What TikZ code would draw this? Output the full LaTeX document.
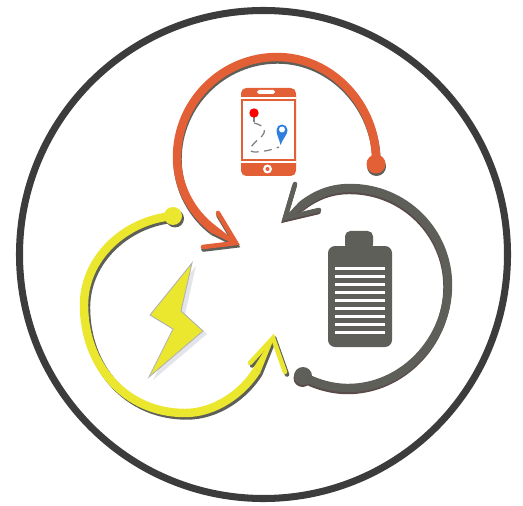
\documentclass[tikz,border=0pt]{standalone}

\definecolor{ringgray}{HTML}{3C3C3C}
\definecolor{phoneorange}{HTML}{E35F36}
\definecolor{batterygray}{HTML}{5D5F58}
\definecolor{batteryshade}{HTML}{5A4B4B}
\definecolor{boltyellow}{HTML}{EBE62E}
\definecolor{boltshade}{HTML}{E4E5EA}
\definecolor{pinblue}{HTML}{2F7FDF}

\tikzset{
    loopline/.style={line width=4.8pt},
    loopbarb/.style={line width=2.6pt, line cap=round, line join=miter},
}

% Each loop once, so that its shadow can use the same lines
\newcommand{\phoneloop}{
    \draw[loopline] (376,160) .. controls (376,105) and (332,57) .. (277,57)
        .. controls (222,57) and (177,102) .. (177,157)
        .. controls (177,187) and (192,213) .. (213,229);
    \fill (215.5,225.6) -- (210.5,232.4) -- (234,244) -- (236,241.5) -- cycle;
    \draw[loopbarb] (218,213) -- (236,243) -- (203,247);
    \fill (376,164) circle (9.5);
}
\newcommand{\batteryloop}{
    \draw[loopline] (303,376) .. controls (315,383) and (332,388) .. (348,388)
        .. controls (403,388) and (448,340) .. (448,285)
        .. controls (448,232) and (405,188) .. (350,188)
        .. controls (330,188) and (315,195) .. (302,205);
    \fill (304.6,208.3) -- (299.4,201.7) -- (285,217) -- (286,219) -- cycle;
    \draw[loopbarb] (295,184) -- (285,218) -- (319,210);
    \fill (303,376) circle (9);
}
\newcommand{\boltloop}{
    \draw[loopline] (173,216) .. controls (125,220) and (84,258) .. (84,305)
        .. controls (84,365) and (125,413) .. (185,413)
        .. controls (215,413) and (243,393) .. (257,370);
    \fill (253.5,367.7) -- (260.5,372.3) -- (273,341) -- (271,340) -- cycle;
    \draw[loopbarb] (250,363) -- (273,338) -- (285,372);
    \fill (173,216) circle (9);
}

\begin{document}
\begin{tikzpicture}[x=0.02cm, y=-0.02cm]
    \useasboundingbox (0,0) rectangle (523,506);

    % Outer ring
    \draw[ringgray, line width=4pt] (263.5,254.5) circle (244);

    % Phone loop: shadow then colour
    \begin{scope}[shift={(0.5,2.5)}, batterygray]
        \phoneloop
    \end{scope}
    \begin{scope}[phoneorange]
        \phoneloop
    \end{scope}

    % Battery loop
    \begin{scope}[shift={(-0.5,2)}, batteryshade]
        \batteryloop
    \end{scope}
    \begin{scope}[batterygray]
        \batteryloop
    \end{scope}

    % Bolt loop
    \begin{scope}[shift={(2,2.5)}, batterygray]
        \boltloop
    \end{scope}
    \begin{scope}[boltyellow]
        \boltloop
    \end{scope}

    % Lightning bolt
    \fill[boltshade, shift={(4,3)}] (192,263) -- (150,315) -- (173,329) -- (149,377) -- (203,331) -- (181,311) -- cycle;
    \filldraw[boltyellow, draw=black!30, line width=0.5pt] (192,263) -- (150,315) -- (173,329) -- (149,377) -- (203,331) -- (181,311) -- cycle;

    % Phone body
    \fill[phoneorange, rounded corners=3pt] (241,88) rectangle (296,176);
    \fill[white] (243,101) rectangle (294,159);
    \fill[white] (241,97) rectangle (296,98.7);
    \fill[white] (241,161.3) rectangle (296,163);
    \fill[white, rounded corners=1pt] (257,90) rectangle (275,94);
    \fill[white] (267.5,169) circle (4.5);
    \fill[phoneorange] (267.5,169) circle (2);

    % Route on the screen
    \draw[gray, line width=0.7pt] (254,113) -- (254,122);
    \draw[gray, line width=0.7pt, dash pattern=on 4.5pt off 3pt] (254,123) .. controls (262,125) and (268,129) .. (262,136) .. controls (254,143) and (245,151) .. (254,152) .. controls (262,152) and (272,150) .. (279,147);
    \fill[red] (254,113) circle (4.7);
    \fill[pinblue] (280.5,145) .. controls (279,138) and (276.5,135) .. (276.5,130) arc[start angle=180, end angle=360, radius=5.5] .. controls (287.5,135) and (283,138) .. cycle;
    \fill[white] (282,129.5) circle (3);

    % Battery
    \fill[batterygray, rounded corners=3pt] (345,231) rectangle (373,250);
    \fill[batterygray, rounded corners=4pt] (328,246) rectangle (392,347);
    \foreach \y in {268,276,...,332}
        \fill[white] (335,\y-1.5) rectangle (385,\y+1.5);
\end{tikzpicture}
\end{document}
